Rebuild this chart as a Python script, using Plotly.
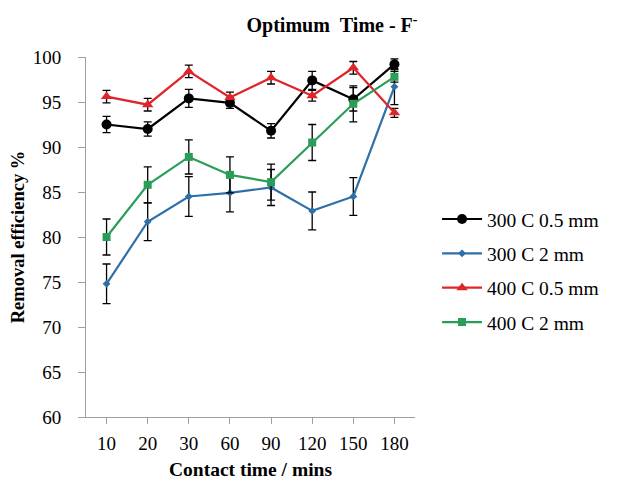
import plotly.graph_objects as go

categories = ["10", "20", "30", "60", "90", "120", "150", "180"]

s1_name = "300 C 0.5 mm"
s1_vals = [92.5, 92.0, 95.4, 94.9, 91.8, 97.4, 95.3, 99.2]
s1_err = [0.9, 0.8, 1.0, 0.6, 0.8, 1.0, 1.3, 0.6]

s2_name = "300 C 2 mm"
s2_vals = [74.8, 81.7, 84.5, 84.9, 85.5, 82.9, 84.5, 96.7]
s2_err = [2.2, 2.1, 2.2, 2.1, 2.0, 2.1, 2.1, 2.0]

s3_name = "400 C 0.5 mm"
s3_vals = [95.6, 94.7, 98.4, 95.5, 97.7, 95.7, 98.8, 93.8]
s3_err = [0.7, 0.7, 0.7, 0.6, 0.7, 0.6, 0.7, 0.5]

s4_name = "400 C 2 mm"
s4_vals = [80.0, 85.8, 88.9, 86.9, 86.1, 90.5, 94.8, 97.8]
s4_err = [2.0, 2.0, 1.9, 2.0, 2.0, 2.0, 2.0, 0.6]

series = [
    (s1_name, s1_vals, s1_err, "#000000", "circle", 10),
    (s2_name, s2_vals, s2_err, "#2f6fa8", "diamond", 6),
    (s3_name, s3_vals, s3_err, "#e0242a", "triangle-up", 10),
    (s4_name, s4_vals, s4_err, "#2a9e58", "square", 8),
]

FF = "Liberation Serif"

fig = go.Figure()
for i, (name, vals, err, color, sym, size) in enumerate(series):
    fig.add_trace(go.Scatter(
        x=categories, y=vals, name=name, mode="lines+markers",
        legendgroup="g%d" % i,
        line=dict(color=color, width=2.2),
        marker=dict(symbol=sym, size=size, color=color),
        error_y=dict(type="data", array=err, visible=True,
                     color="#000000", thickness=1.3, width=4),
    ))

# page body adds an 8px offset; figure is sized/margined to compensate
fig.update_layout(
    width=609, height=472,
    margin=dict(l=78, r=202, t=49, b=63),
    paper_bgcolor="white", plot_bgcolor="white",
    font=dict(family=FF, color="#000000"),
    title=dict(text="<b>Optimum&nbsp;&nbsp;Time - F<sup>-</sup></b>", x=0.532, xanchor="center",
               y=0.964, yanchor="middle", font=dict(size=20, family=FF)),
    showlegend=True,
    legend=dict(x=1.067, y=0.406, xanchor="left", yanchor="middle",
                font=dict(size=19.5, family=FF),
                tracegroupgap=6, itemwidth=40, bgcolor="rgba(0,0,0,0)"),
    xaxis=dict(
        type="category", range=[-0.5, 7.5], automargin=False,
        showline=True, linecolor="#a0a0a0", linewidth=1,
        ticks="outside", ticklen=6, tickcolor="#a0a0a0",
        ticklabelstandoff=3,
        showgrid=False, zeroline=False,
        tickfont=dict(size=19, family=FF),
        title=dict(text="<b>Contact time / mins</b>", font=dict(size=19.5, family=FF),
                   standoff=15),
    ),
    yaxis=dict(
        range=[60, 100], dtick=5, automargin=False,
        showline=True, linecolor="#a0a0a0", linewidth=1,
        ticks="outside", ticklen=7, tickcolor="#a0a0a0",
        ticklabelstandoff=13,
        showgrid=False, zeroline=False,
        tickfont=dict(size=19, family=FF),
        title=dict(text="<b>Removal efficiency %</b>", font=dict(size=18.5, family=FF),
                   standoff=5),
    ),
)

fig.write_html("out.html")
